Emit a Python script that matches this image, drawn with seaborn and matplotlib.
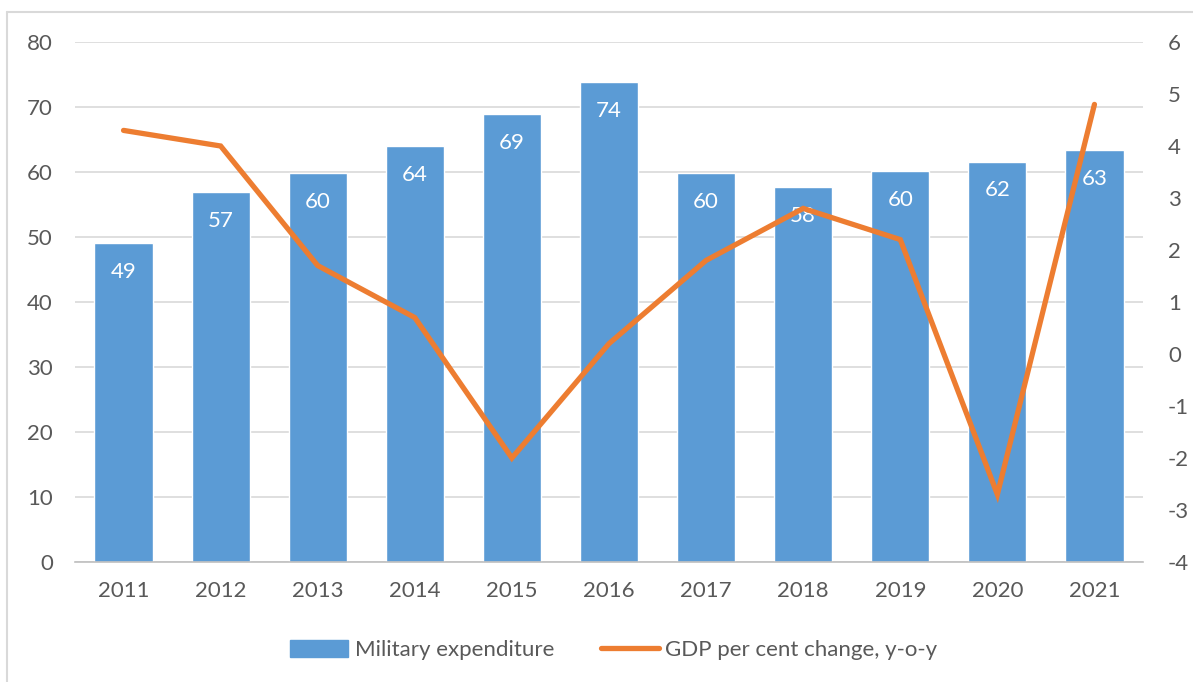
import numpy as np
import pandas as pd
import matplotlib
matplotlib.use("Agg")
import matplotlib.pyplot as plt
from matplotlib.lines import Line2D
from matplotlib.patches import Patch
import seaborn as sns

years = ["2011", "2012", "2013", "2014", "2015", "2016", "2017", "2018", "2019", "2020", "2021"]
military = [49.1, 56.9, 59.8, 64.0, 68.9, 73.8, 59.9, 57.7, 60.1, 61.6, 63.4]
military_labels = ["49", "57", "60", "64", "69", "74", "60", "58", "60", "62", "63"]
gdp_change = [4.3, 4.0, 1.7, 0.7, -2.0, 0.2, 1.8, 2.8, 2.2, -2.7, 4.8]
left_ticks = [0, 10, 20, 30, 40, 50, 60, 70, 80]
right_ticks = [-4, -3, -2, -1, 0, 1, 2, 3, 4, 5, 6]

BAR = "#5B9BD5"
LINE = "#ED7D31"
TXT = "#595959"
GRID = "#D9D9D9"
FS = 16

sns.set_theme(style="white")
plt.rcParams["font.family"] = ["Lato", "DejaVu Sans"]
plt.rcParams["axes.unicode_minus"] = False

df = pd.DataFrame({"year": years, "military": military, "gdp": gdp_change,
                   "pos": np.arange(len(years))})

fig = plt.figure(figsize=(11.93, 6.82), dpi=100)
ax = fig.add_axes([75 / 1193, 1 - 562 / 682, (1143 - 75) / 1193, (562 - 42) / 682])

sns.barplot(data=df, x="year", y="military", color=BAR, width=0.6, saturation=1,
            ax=ax, zorder=2)
ax.set_xlim(-0.5, len(years) - 0.5)
ax.set_ylim(0, 80)
ax.set_yticks(left_ticks)
ax.yaxis.grid(True, color=GRID, linewidth=1.2, zorder=0)
ax.xaxis.grid(False)
ax.set_axisbelow(True)
ax.set_xlabel("")
ax.set_ylabel("")
for s in ["top", "right", "left"]:
    ax.spines[s].set_visible(False)
ax.spines["bottom"].set_color("#BFBFBF")
ax.spines["bottom"].set_linewidth(1.2)
ax.tick_params(axis="y", length=0, labelsize=FS, labelcolor=TXT, pad=16)
ax.tick_params(axis="x", which="major", length=0, labelsize=FS, labelcolor=TXT, pad=14)
ax.set_xticks(np.arange(-0.5, len(years), 1.0), minor=True)
ax.tick_params(axis="x", which="minor", length=6, width=1.2, color="#BFBFBF", direction="out")

ax.bar_label(ax.containers[0], labels=military_labels, label_type="edge",
             padding=-28, color="white", fontsize=FS)

ax2 = ax.twinx()
sns.lineplot(data=df, x="pos", y="gdp", color=LINE, linewidth=3.8, ax=ax2,
             solid_capstyle="round", solid_joinstyle="miter", zorder=3)
ax2.set_ylim(-4, 6)
ax2.set_yticks(right_ticks)
ax2.set_ylabel("")
ax2.grid(False)
for s in ["top", "right", "left", "bottom"]:
    ax2.spines[s].set_visible(False)
ax2.tick_params(axis="y", length=0, labelsize=FS, labelcolor=TXT, pad=18)
ax2.set_xlim(-0.5, len(years) - 0.5)

handles = [Patch(facecolor=BAR, edgecolor=BAR),
           Line2D([0], [0], color=LINE, linewidth=3.8, solid_capstyle="round")]
fig.legend(handles, ["Military expenditure", "GDP per cent change, y-o-y"],
           loc="center", bbox_to_anchor=(614 / 1193, 1 - 650 / 682), ncol=2,
           frameon=False, fontsize=FS, labelcolor=TXT, handlelength=2.6,
           handleheight=0.8, handletextpad=0.3, columnspacing=2.1)

# figure border (top and left visible)
fig.add_artist(Line2D([7 / 1193, 1.0], [1 - 12 / 682, 1 - 12 / 682],
                      transform=fig.transFigure, color="#D9D9D9", linewidth=1.5))
fig.add_artist(Line2D([7 / 1193, 7 / 1193], [0.0, 1 - 12 / 682],
                      transform=fig.transFigure, color="#D9D9D9", linewidth=1.5))

fig.savefig("out.png", dpi=100, facecolor="white")
